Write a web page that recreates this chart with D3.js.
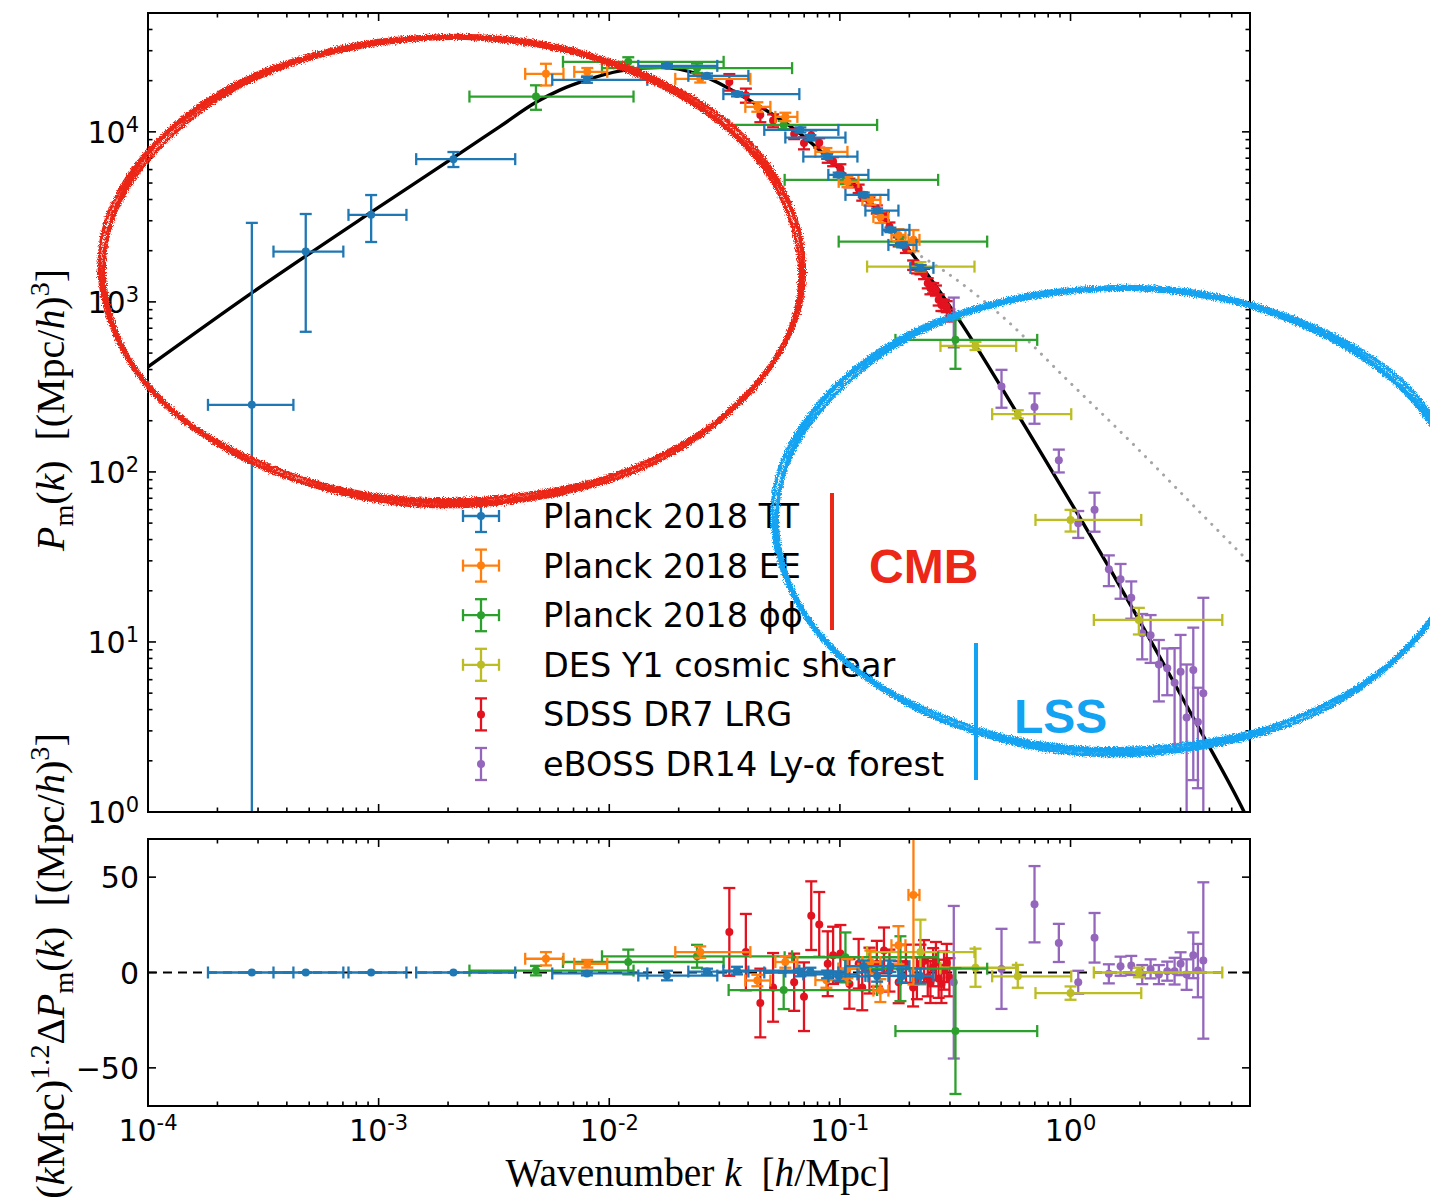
<!DOCTYPE html>
<html>
<head>
<meta charset="utf-8">
<script src="https://cdn.jsdelivr.net/npm/d3@7"></script>
<style>
  body { margin: 0; background: #fff; }
  svg { display: block; }
  text { white-space: pre; }
</style>
</head>
<body>
<svg id="fig" width="1430" height="1204"></svg>
<script>
// ---------------- data ----------------
// Model matter power spectrum (solid) and its extension (dotted)
const theoryK = [1e-4, 2.82e-4, 9.185e-4, 2.104e-3, 3.365e-3, 4.85e-3, 6.13e-3, 8.0e-3, 0.01117, 0.01664,
                 0.0248, 0.0395, 0.06739, 0.1005, 0.1498, 0.2235, 0.3332, 0.4969, 0.6911, 1.0725,
                 1.491, 1.953, 2.635, 3.664, 5.64, 6.0];
const theoryP = [414.7, 1129.6, 3338, 7034, 10775, 15015, 17665, 20220, 22850, 23950,
                 21640, 15640, 9732, 5976, 3293, 1651, 762.6, 320.6, 153.2, 56.77,
                 26.52, 13.94, 6.75, 2.996, 1.01, 0.85];
const nonlinK = [0.1498, 0.1923, 0.2349, 0.2869, 0.357, 0.4969, 0.9676, 1.882, 3.664, 6.0];
const nonlinP = [3293, 2135, 1790, 1502, 1209, 838.5, 347.7, 144.2, 57.4, 29.15];

// [k, kLo, kHi, P, P error, residual, residual error]
const planckTT = [
  [2.82e-4, 1.82e-4, 4.27e-4, 248, 2667, 0, 0.1],
  [4.83e-4, 3.50e-4, 7.03e-4, 1977, 1310, 0, 0.1],
  [9.28e-4, 7.40e-4, 1.32e-3, 3250, 1000, 0, 0.1],
  [2.11e-3, 1.455e-3, 3.91e-3, 6910, 700, 0, 0.2],
  [0.0080, 0.00566, 0.01462, 20230, 800, -0.5, 1],
  [0.01779, 0.01336, 0.0294, 24440, 600, -1.6, 2.5],
  [0.02653, 0.02202, 0.0401, 21350, 700, 0.5, 1.5],
  [0.0358, 0.03124, 0.0667, 16670, 500, 1, 2],
  [0.0674, 0.0470, 0.0985, 10270, 350, 0, 2],
  [0.0745, 0.058, 0.1057, 9260, 300, 0.5, 2],
  [0.088, 0.0694, 0.1191, 7155, 220, -1, 2],
  [0.0988, 0.0891, 0.1329, 5585, 170, -2, 2.5],
  [0.1269, 0.1057, 0.1623, 4260, 130, 3.3, 3],
  [0.145, 0.129, 0.1794, 3444, 100, -1.8, 3],
  [0.1656, 0.1529, 0.2002, 2652, 80, 3.3, 3],
  [0.1862, 0.1623, 0.2148, 2163, 70, -1.8, 3.5],
  [0.2235, 0.2022, 0.2544, 1585, 60, -1.8, 4]
];
const planckEE = [
  [5.313e-3, 4.32e-3, 6.33e-3, 21940, 3200, 7.2, 3.5],
  [8.03e-3, 7.05e-3, 9.80e-3, 22540, 1200, 4.6, 2],
  [0.0248, 0.01933, 0.0409, 20500, 1000, 10.7, 3],
  [0.04385, 0.0389, 0.04995, 14030, 900, -4.2, 3],
  [0.0580, 0.0525, 0.0654, 12250, 700, 5.5, 3],
  [0.0874, 0.0783, 0.1078, 7628, 400, -4, 4],
  [0.1078, 0.0988, 0.1203, 5080, 350, 2, 5],
  [0.1356, 0.1252, 0.1498, 3981, 250, 5.5, 6],
  [0.1498, 0.1397, 0.1623, 3162, 250, -9.5, 6],
  [0.1794, 0.1673, 0.1924, 2478, 200, 14.3, 10],
  [0.2084, 0.1983, 0.2213, 2316, 330, 40.7, 47]
];
const planckPhiPhi = [
  [4.81e-3, 2.476e-3, 0.01274, 16130, 2650, 1, 2.5],
  [0.01209, 6.30e-3, 0.03132, 25810, 1650, 5.5, 6.5],
  [0.02402, 9.30e-3, 0.06204, 23700, 1500, 8.5, 6],
  [0.05705, 0.03293, 0.145, 10990, 600, -9.2, 10],
  [0.1057, 0.0576, 0.2667, 5220, 300, 8, 13],
  [0.183, 0.0988, 0.4351, 2263, 130, 2, 17],
  [0.3170, 0.1741, 0.7170, 598, 194, -30.7, 33]
];
const desY1 = [
  [0.2235, 0.1312, 0.3833, 1613, 100, 10.7, 17],
  [0.3872, 0.2729, 0.5812, 551, 30, 2.5, 10],
  [0.5906, 0.4573, 1.007, 218.5, 12, -2, 6],
  [1.0, 0.7048, 2.026, 52.2, 7.6, -10.8, 3.5],
  [1.978, 1.262, 4.55, 13.47, 2.4, 0, 2.5]
];
// [k, P, P error, residual, residual error]
const sdssLRG = [
  [0.03316, 19670, 2190, 21.3, 23], [0.03911, 16400, 1560, 10.7, 20],
  [0.04519, 12570, 1180, -16, 18], [0.05132, 11650, 1015, -7.8, 18],
  [0.06334, 9720, 657, -5.1, 15], [0.06987, 8590, 700, -12.7, 18],
  [0.07512, 9556, 642, 29.8, 18], [0.08136, 8620, 551, 25.2, 17],
  [0.08855, 7080, 500, 4.6, 17], [0.09344, 6690, 412, 9, 15],
  [0.1005, 6070, 377, 9.9, 15], [0.1100, 5010, 293, -6, 13],
  [0.1206, 4630, 263, 4.6, 13], [0.1250, 4170, 232, -7.8, 12],
  [0.1343, 3900, 213, 1, 12], [0.1446, 3500, 195, 4.6, 12],
  [0.1553, 3200, 179, 11.6, 12], [0.1640, 2776, 154, 1, 11],
  [0.1798, 2258, 138, -5.1, 11], [0.1933, 2055, 115, 4.6, 10],
  [0.2077, 1647, 105, -7.8, 10], [0.2157, 1581, 110, -3, 11],
  [0.2235, 1549, 96, 4.6, 10], [0.2317, 1462, 101, 6, 11],
  [0.2404, 1289, 88, -2.5, 10], [0.2469, 1202, 94, -5, 11],
  [0.2537, 1206, 83, 2.8, 10], [0.2609, 1168, 80, 6, 10],
  [0.2681, 1030, 78, -3.3, 10], [0.2756, 959, 75, -6, 10],
  [0.2829, 956, 73, 1, 10], [0.2906, 940, 70, 5, 10],
  [0.2985, 835, 68, -2.5, 10]
];
const ebossLya = [
  [0.3117, 800, 260, -5.1, 40], [0.502, 318.5, 80, 1.9, 21],
  [0.698, 241, 49, 35.8, 20], [0.8897, 117.3, 18, 15.5, 10],
  [1.080, 49.9, 9, -5.1, 6], [1.271, 60, 15.5, 18.2, 13],
  [1.466, 26.8, 5.5, -0.7, 5], [1.648, 23.35, 5.4, 3.3, 5],
  [1.834, 18.2, 4.5, 3.7, 5], [2.046, 11.25, 3.35, -1.1, 5],
  [2.224, 10.96, 3.43, 1.9, 5], [2.416, 7.37, 2.9, -1.1, 5],
  [2.627, 7.01, 2.15, 0.7, 5], [2.826, 5.75, 3.45, 0.7, 7],
  [3.0, 6.67, 4.33, 4.6, 6], [3.187, 3.59, 3.78, -1.1, 8],
  [3.406, 6.84, 5.3, 9, 12], [3.567, 3.38, 2.0, 1, 14],
  [3.765, 4.99, 13.2, 6.3, 41]
];

const legendLabels = ['Planck 2018 TT', 'Planck 2018 EE', 'Planck 2018 \u03D5\u03D5',
                      'DES Y1 cosmic shear', 'SDSS DR7 LRG', 'eBOSS DR14 Ly-\u03B1 forest'];
const xTickExps = [-4, -3, -2, -1, 0];
const yTickExps = [0, 1, 2, 3, 4];
const resTicks = [-50, 0, 50];

// ---------------- layout ----------------
const L = 148, R = 1250, T1 = 13, B1 = 812, T2 = 839, B2 = 1106;
const x = d3.scaleLog().domain([1e-4, 6]).range([L, R]);
const yTop = d3.scaleLog().domain([1, 5e4]).range([B1, T1]);
const yBot = d3.scaleLinear().domain([-70, 70]).range([B2, T2]);

const col = {
  tt: '#1f77b4', ee: '#ff7f0e', pp: '#2ca02c', des: '#bcbd22', lrg: '#e3121f', lya: '#9467bd'
};

const norm4 = r => ({k: r[0], kLo: r[1], kHi: r[2], P: r[3], dP: r[4], res: r[5], dRes: r[6]});
const norm2 = r => ({k: r[0], kLo: null, kHi: null, P: r[1], dP: r[2], res: r[3], dRes: r[4]});

const series = [
  {rows: sdssLRG.map(norm2), color: col.lrg, xerr: false},
  {rows: ebossLya.map(norm2), color: col.lya, xerr: false},
  {rows: desY1.map(norm4), color: col.des, xerr: true},
  {rows: planckPhiPhi.map(norm4), color: col.pp, xerr: true},
  {rows: planckEE.map(norm4), color: col.ee, xerr: true},
  {rows: planckTT.map(norm4), color: col.tt, xerr: true}
];
const legendColors = [col.tt, col.ee, col.pp, col.des, col.lrg, col.lya];
const legendXerr = [true, true, true, true, false, false];

const svg = d3.select('#fig');
const defs = svg.append('defs');
defs.append('clipPath').attr('id', 'clipTop').append('rect')
  .attr('x', L).attr('y', T1).attr('width', R - L).attr('height', B1 - T1);
defs.append('clipPath').attr('id', 'clipBot').append('rect')
  .attr('x', L).attr('y', T2).attr('width', R - L).attr('height', B2 - T2);
const rough = defs.append('filter').attr('id', 'rough')
  .attr('x', '-5%').attr('y', '-5%').attr('width', '110%').attr('height', '110%');
rough.append('feTurbulence').attr('type', 'fractalNoise').attr('baseFrequency', 0.9)
  .attr('numOctaves', 2).attr('seed', 4).attr('result', 'noise');
rough.append('feDisplacementMap').attr('in', 'SourceGraphic').attr('in2', 'noise')
  .attr('scale', 6).attr('xChannelSelector', 'R').attr('yChannelSelector', 'G');

const CAP = 6, LW = 2.3, MR = 4;

function drawErrors(g, rows, color, yScale, key, errKey, withX, isLog) {
  const grp = g.append('g').attr('stroke', color).attr('fill', color).attr('stroke-width', LW);
  rows.forEach(d => {
    const cx = x(d.k), v = d[key], e = d[errKey];
    const cy = yScale(v);
    const lo = isLog ? Math.max(v - e, 1e-3) : v - e;
    const yLo = yScale(lo), yHi = yScale(v + e);
    if (withX && d.kLo) {
      const x0 = x(d.kLo), x1 = x(d.kHi);
      grp.append('line').attr('x1', x0).attr('x2', x1).attr('y1', cy).attr('y2', cy);
      grp.append('line').attr('x1', x0).attr('x2', x0).attr('y1', cy - CAP).attr('y2', cy + CAP);
      grp.append('line').attr('x1', x1).attr('x2', x1).attr('y1', cy - CAP).attr('y2', cy + CAP);
    }
    grp.append('line').attr('x1', cx).attr('x2', cx).attr('y1', yLo).attr('y2', yHi);
    grp.append('line').attr('x1', cx - CAP).attr('x2', cx + CAP).attr('y1', yLo).attr('y2', yLo);
    grp.append('line').attr('x1', cx - CAP).attr('x2', cx + CAP).attr('y1', yHi).attr('y2', yHi);
    grp.append('circle').attr('cx', cx).attr('cy', cy).attr('r', MR).attr('stroke', 'none');
  });
}

// ---------------- upper panel ----------------
const upper = svg.append('g').attr('clip-path', 'url(#clipTop)');
const lineTop = d3.line().x(d => x(d[0])).y(d => yTop(d[1])).curve(d3.curveMonotoneX);
upper.append('path').attr('d', lineTop(d3.zip(nonlinK, nonlinP)))
  .attr('fill', 'none').attr('stroke', '#a6a6a6').attr('stroke-width', 3)
  .attr('stroke-linecap', 'round').attr('stroke-dasharray', '0.1,8.5');
upper.append('path').attr('d', lineTop(d3.zip(theoryK, theoryP)))
  .attr('fill', 'none').attr('stroke', '#000').attr('stroke-width', 3.4);
series.forEach(s => drawErrors(upper, s.rows, s.color, yTop, 'P', 'dP', s.xerr, true));

// ---------------- residual panel ----------------
const lower = svg.append('g').attr('clip-path', 'url(#clipBot)');
lower.append('line').attr('x1', L).attr('x2', R).attr('y1', yBot(0)).attr('y2', yBot(0))
  .attr('stroke', '#000').attr('stroke-width', 2.2).attr('stroke-dasharray', '9,6');
series.forEach(s => drawErrors(lower, s.rows, s.color, yBot, 'res', 'dRes', s.xerr, false));

// ---------------- axes ----------------
const axes = svg.append('g').attr('stroke', '#000');
function logTicks(lo, hi) {
  const out = [];
  for (let e = Math.floor(Math.log10(lo)); e <= Math.ceil(Math.log10(hi)); e++)
    for (let m = 1; m <= 9; m++) {
      const v = m * Math.pow(10, e);
      if (v >= lo * 0.9999 && v <= hi * 1.0001) out.push({v, major: m === 1});
    }
  return out;
}
const MAJ = 8, MIN = 4.5;
const xt = logTicks(1e-4, 6);
[[T1, B1], [T2, B2]].forEach(([t, b]) => {
  xt.forEach(d => {
    const px = x(d.v), len = d.major ? MAJ : MIN;
    axes.append('line').attr('x1', px).attr('x2', px).attr('y1', b).attr('y2', b - len).attr('stroke-width', 1.6);
    axes.append('line').attr('x1', px).attr('x2', px).attr('y1', t).attr('y2', t + len).attr('stroke-width', 1.6);
  });
});
logTicks(1, 5e4).forEach(d => {
  const py = yTop(d.v), len = d.major ? MAJ : MIN;
  axes.append('line').attr('x1', L).attr('x2', L + len).attr('y1', py).attr('y2', py).attr('stroke-width', 1.6);
  axes.append('line').attr('x1', R).attr('x2', R - len).attr('y1', py).attr('y2', py).attr('stroke-width', 1.6);
});
resTicks.forEach(v => {
  const py = yBot(v);
  axes.append('line').attr('x1', L).attr('x2', L + MAJ).attr('y1', py).attr('y2', py).attr('stroke-width', 1.6);
  axes.append('line').attr('x1', R).attr('x2', R - MAJ).attr('y1', py).attr('y2', py).attr('stroke-width', 1.6);
});
axes.append('rect').attr('x', L).attr('y', T1).attr('width', R - L).attr('height', B1 - T1)
  .attr('fill', 'none').attr('stroke-width', 2);
axes.append('rect').attr('x', L).attr('y', T2).attr('width', R - L).attr('height', B2 - T2)
  .attr('fill', 'none').attr('stroke-width', 2);

// rich text: parts = [[string, style]] with style among '', 'i', 'sub', 'sup'
function richText(g, parts, fs, family) {
  const t = g.append('text').style('font-size', fs + 'px').style('font-family', family).attr('fill', '#000');
  let shift = 0;
  parts.forEach(([s, st]) => {
    const ts = t.append('tspan').text(s);
    let target = 0;
    if (st.indexOf('sub') >= 0) { ts.style('font-size', (fs * 0.7) + 'px'); target = fs * 0.22; }
    if (st.indexOf('sup') >= 0) { ts.style('font-size', (fs * 0.7) + 'px'); target = -fs * 0.37; }
    if (st === 'i') ts.style('font-style', 'italic');
    if (target !== shift) { ts.attr('dy', target - shift); shift = target; }
  });
  return t;
}

const labels = svg.append('g');
const TICKFONT = "'DejaVu Sans', sans-serif";
xTickExps.forEach(e => {
  richText(labels, [['10', ''], [String(e), 'sup']], 30, TICKFONT)
    .attr('x', x(Math.pow(10, e))).attr('y', 1141).attr('text-anchor', 'middle');
});
yTickExps.forEach(e => {
  richText(labels, [['10', ''], [String(e), 'sup']], 30, TICKFONT)
    .attr('x', 139).attr('y', yTop(Math.pow(10, e)) + 11).attr('text-anchor', 'end');
});
resTicks.forEach(v => {
  labels.append('text').text(v < 0 ? '\u2212' + Math.abs(v) : String(v))
    .attr('x', 139).attr('y', yBot(v) + 11).attr('text-anchor', 'end')
    .style('font-size', '30px').style('font-family', TICKFONT);
});

// axis titles, sized to their span
const SERIF = "'Liberation Serif', 'DejaVu Serif', serif";
function fitted(parts, target, base) {
  const probe = richText(labels, parts, base, SERIF);
  const len = probe.node().getComputedTextLength();
  probe.remove();
  return richText(labels, parts, base * target / len, SERIF);
}
const xTitle = fitted([['Wavenumber ', ''], ['k', 'i'], ['  [', ''], ['h', 'i'], ['/Mpc]', '']], 385, 34);
xTitle.attr('x', 698).attr('y', 1186).attr('text-anchor', 'middle');

const yTitleParts = [['P', 'i'], ['m', 'sub'], ['(', ''], ['k', 'i'], [')  [(Mpc/', ''], ['h', 'i'], [')', ''], ['3', 'sup'], [']', '']];
const yTitle = fitted(yTitleParts, 282, 34);
yTitle.attr('text-anchor', 'middle').attr('transform', 'translate(64,410) rotate(-90)');
const resTitle = fitted([['(', ''], ['k', 'i'], ['Mpc)', ''], ['1.2', 'sup'], ['\u0394', ''], ['P', 'i'], ['m', 'sub'],
                  ['(', ''], ['k', 'i'], [')  [(Mpc/', ''], ['h', 'i'], [')', ''], ['3', 'sup'], [']', '']], 466, 34);
resTitle.attr('text-anchor', 'end').attr('transform', 'translate(64,733) rotate(-90)');

// ---------------- legend ----------------
const leg = svg.append('g');
legendLabels.forEach((name, i) => {
  const cy = 516 + i * 49.6, cx = 481, c = legendColors[i];
  const g = leg.append('g').attr('stroke', c).attr('fill', c).attr('stroke-width', LW);
  if (legendXerr[i]) {
    g.append('line').attr('x1', cx - 18).attr('x2', cx + 18).attr('y1', cy).attr('y2', cy);
    g.append('line').attr('x1', cx - 18).attr('x2', cx - 18).attr('y1', cy - CAP).attr('y2', cy + CAP);
    g.append('line').attr('x1', cx + 18).attr('x2', cx + 18).attr('y1', cy - CAP).attr('y2', cy + CAP);
  }
  g.append('line').attr('x1', cx).attr('x2', cx).attr('y1', cy - 16).attr('y2', cy + 16);
  g.append('line').attr('x1', cx - CAP).attr('x2', cx + CAP).attr('y1', cy - 16).attr('y2', cy - 16);
  g.append('line').attr('x1', cx - CAP).attr('x2', cx + CAP).attr('y1', cy + 16).attr('y2', cy + 16);
  g.append('circle').attr('cx', cx).attr('cy', cy).attr('r', MR).attr('stroke', 'none');
  leg.append('text').text(name).attr('x', 543).attr('y', cy + 12)
    .style('font-size', '33.5px').style('font-family', TICKFONT).attr('fill', '#000');
});

// ---------------- hand-drawn annotations ----------------
const note = svg.append('g');
function scribble(cx, cy, rx, ry, color) {
  const g = note.append('g').attr('filter', 'url(#rough)').attr('fill', 'none').attr('stroke', color);
  const passes = [{dr: -2.2, w: 3.6, ph: 0.0}, {dr: 0, w: 4.4, ph: 1.7}, {dr: 2.2, w: 3.6, ph: 3.3}];
  passes.forEach(p => {
    const pts = d3.range(0, 360, 3).map(a => {
      const t = a * Math.PI / 180;
      const w = p.dr + 1.1 * Math.sin(3 * t + p.ph) + 0.7 * Math.sin(8 * t + 2 * p.ph);
      return [cx + (rx + w) * Math.cos(t), cy + (ry + w) * Math.sin(t)];
    });
    g.append('path').attr('d', d3.line().curve(d3.curveCardinalClosed)(pts))
      .attr('stroke-width', p.w).attr('stroke-linecap', 'round');
  });
}
scribble(452, 270, 350, 233, '#ec2718');
scribble(1120, 520, 345, 232, '#12a3f2');

note.append('line').attr('x1', 832).attr('x2', 832).attr('y1', 493).attr('y2', 630)
  .attr('stroke', '#ec2718').attr('stroke-width', 4);
note.append('text').text('CMB').attr('x', 869).attr('y', 583)
  .style('font-family', "'Liberation Sans', Arial, sans-serif").style('font-weight', 'bold')
  .style('font-size', '48px').attr('fill', '#ec2718');
note.append('line').attr('x1', 976).attr('x2', 976).attr('y1', 643).attr('y2', 780)
  .attr('stroke', '#12a3f2').attr('stroke-width', 4);
note.append('text').text('LSS').attr('x', 1014).attr('y', 733)
  .style('font-family', "'Liberation Sans', Arial, sans-serif").style('font-weight', 'bold')
  .style('font-size', '48px').attr('fill', '#12a3f2');
</script>
</body>
</html>
